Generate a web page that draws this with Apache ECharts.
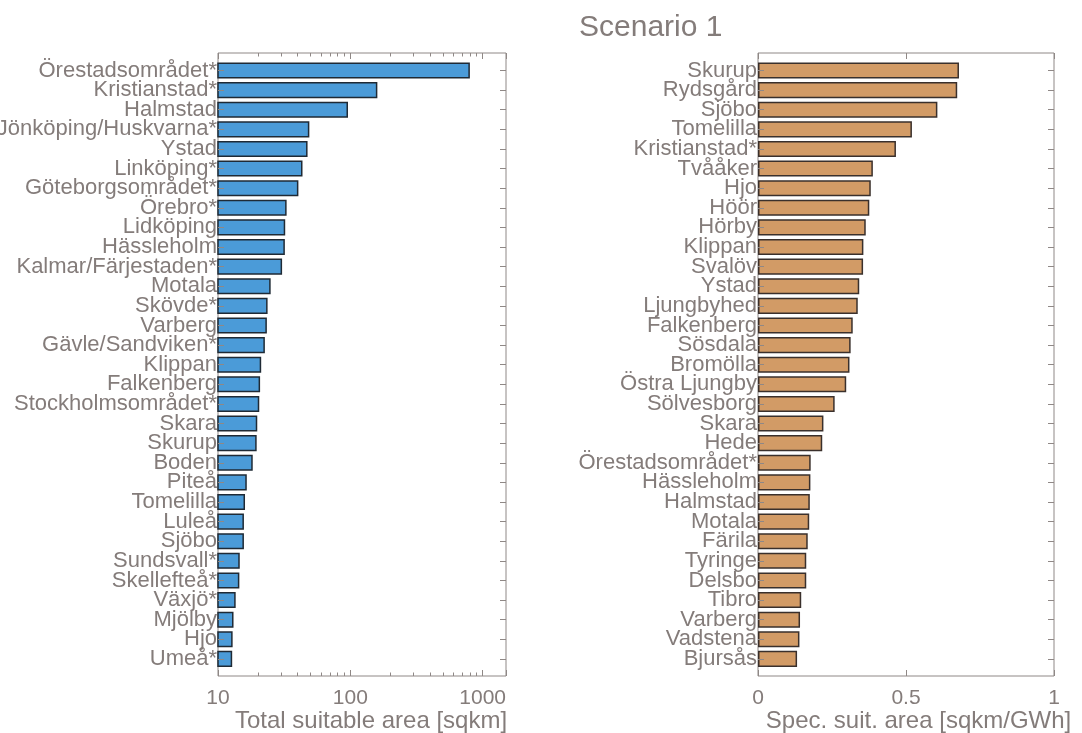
<!DOCTYPE html>
<html>
<head>
<meta charset="utf-8">
<script src="https://cdn.jsdelivr.net/npm/echarts@6/dist/echarts.min.js"></script>
<style>
  html, body { margin: 0; padding: 0; background: #ffffff; }
  #chart { width: 1082px; height: 733px; }
</style>
</head>
<body>
<div id="chart"></div>
<script>
// Left panel: total suitable area per town (log scale)
const totalCities = [
  'Örestadsområdet*', 'Kristianstad*', 'Halmstad', 'Jönköping/Huskvarna*', 'Ystad',
  'Linköping*', 'Göteborgsområdet*', 'Örebro*', 'Lidköping', 'Hässleholm',
  'Kalmar/Färjestaden*', 'Motala', 'Skövde*', 'Varberg', 'Gävle/Sandviken*',
  'Klippan', 'Falkenberg', 'Stockholmsområdet*', 'Skara', 'Skurup',
  'Boden', 'Piteå', 'Tomelilla', 'Luleå', 'Sjöbo',
  'Sundsvall*', 'Skellefteå*', 'Växjö*', 'Mjölby', 'Hjo', 'Umeå*'
];
const totalArea = [
  800, 160, 96, 49, 47.5,
  43.5, 40.5, 33, 32.2, 32,
  30.5, 25, 23.7, 23.4, 22.6,
  21.2, 20.8, 20.5, 19.8, 19.6,
  18.3, 16.5, 16.0, 15.7, 15.7,
  14.6, 14.5, 13.6, 13.1, 12.9, 12.8
];

// Right panel: specific suitable area per GWh (linear scale)
const specCities = [
  'Skurup', 'Rydsgård', 'Sjöbo', 'Tomelilla', 'Kristianstad*',
  'Tvååker', 'Hjo', 'Höör', 'Hörby', 'Klippan',
  'Svalöv', 'Ystad', 'Ljungbyhed', 'Falkenberg', 'Sösdala',
  'Bromölla', 'Östra Ljungby', 'Sölvesborg', 'Skara', 'Hede',
  'Örestadsområdet*', 'Hässleholm', 'Halmstad', 'Motala', 'Färila',
  'Tyringe', 'Delsbo', 'Tibro', 'Varberg', 'Vadstena', 'Bjursås'
];
const specArea = [
  0.679, 0.673, 0.606, 0.520, 0.466,
  0.388, 0.381, 0.376, 0.364, 0.356,
  0.355, 0.342, 0.337, 0.320, 0.313,
  0.309, 0.298, 0.259, 0.221, 0.217,
  0.178, 0.177, 0.175, 0.173, 0.168,
  0.163, 0.163, 0.146, 0.142, 0.140, 0.132
];

const totalRange = [10, 1500];
const specRange = [0, 1];
const specTickStep = 0.5;
const chartTitle = 'Scenario 1';
const totalAxisName = 'Total suitable area [sqkm]';
const specAxisName = 'Spec. suit. area [sqkm/GWh]';

// Styling
const TEXT = '#847c7a';
const LINE = '#8f8886';
const FONT = '"Liberation Sans", Arial, Helvetica, sans-serif';
const BLUE = '#4b9bd8';
const BLUE_EDGE = '#1f2a35';
const TAN = '#d29b66';
const TAN_EDGE = '#3a302c';

// Frame boxes and the slightly inset band area holding the bars
const frameTop = 53, frameHeight = 623;
const rowTop = 60.7, rowHeight = 608;
const leftX = 218, leftW = 288;
const rightX = 758, rightW = 296;

const lineStyle = { color: LINE, width: 1 };

function frameAxisX(grid, type, range, position, extra) {
  return Object.assign({
    gridIndex: grid,
    type: type,
    min: range[0],
    max: range[1],
    position: position,
    axisLine: { show: false },
    axisTick: { show: true, inside: true, length: 6, lineStyle: lineStyle },
    axisLabel: { show: false },
    splitLine: { show: false }
  }, extra || {});
}

function categoryAxis(grid, data, position, showLabels) {
  return {
    gridIndex: grid,
    type: 'category',
    data: data,
    inverse: true,
    position: position,
    z: 5,
    axisLine: { show: false },
    axisTick: { show: true, inside: true, alignWithLabel: true, length: 6, lineStyle: lineStyle },
    axisLabel: showLabels ? {
      show: true, color: TEXT, fontSize: 22, fontFamily: FONT, margin: 1, interval: 0
    } : { show: false },
    splitLine: { show: false }
  };
}

function gridBox(left, top, width, height, framed) {
  return {
    left: left, top: top, width: width, height: height,
    containLabel: false,
    outerBoundsMode: 'none',
    show: framed,
    borderColor: LINE,
    borderWidth: 1,
    backgroundColor: 'transparent'
  };
}

function axisTitle(text, shift) {
  return {
    name: text,
    nameLocation: 'middle',
    nameGap: 33,
    nameMoveOverlap: false,
    nameTextStyle: { color: TEXT, fontSize: 24, fontFamily: FONT, padding: [0, 0, 0, shift] }
  };
}

const logMinor = { show: true, splitNumber: 9, length: 3.5, lineStyle: lineStyle };

const option = {
  animation: false,
  backgroundColor: '#ffffff',
  title: {
    text: chartTitle,
    left: 574,
    top: 8,
    textStyle: { color: TEXT, fontSize: 30, fontWeight: 'normal', fontFamily: FONT }
  },
  grid: [
    gridBox(leftX, frameTop, leftW, frameHeight, true),
    gridBox(leftX, rowTop, leftW, rowHeight, false),
    gridBox(rightX, frameTop, rightW, frameHeight, true),
    gridBox(rightX, rowTop, rightW, rowHeight, false)
  ],
  xAxis: [
    frameAxisX(0, 'log', totalRange, 'bottom', Object.assign({
      minorTick: logMinor,
      axisLabel: {
        show: true, color: TEXT, fontSize: 21, fontFamily: FONT, margin: 12,
        showMaxLabel: false, formatter: function (v) { return String(v); }
      }
    }, axisTitle(totalAxisName, 18))),
    frameAxisX(0, 'log', totalRange, 'top', { minorTick: logMinor }),
    { gridIndex: 1, type: 'log', min: totalRange[0], max: totalRange[1], show: false },
    frameAxisX(2, 'value', specRange, 'bottom', Object.assign({
      interval: specTickStep,
      axisLabel: { show: true, color: TEXT, fontSize: 21, fontFamily: FONT, margin: 12 }
    }, axisTitle(specAxisName, 25))),
    frameAxisX(2, 'value', specRange, 'top', { interval: specTickStep }),
    { gridIndex: 3, type: 'value', min: specRange[0], max: specRange[1], show: false }
  ],
  yAxis: [
    { gridIndex: 0, type: 'value', show: false },
    categoryAxis(1, totalCities, 'left', true),
    categoryAxis(1, totalCities, 'right', false),
    { gridIndex: 2, type: 'value', show: false },
    categoryAxis(3, specCities, 'left', true),
    categoryAxis(3, specCities, 'right', false)
  ],
  series: [
    {
      type: 'bar',
      xAxisIndex: 2,
      yAxisIndex: 1,
      data: totalArea,
      barCategoryGap: '18%',
      itemStyle: { color: BLUE, borderColor: BLUE_EDGE, borderWidth: 1.5 }
    },
    {
      type: 'bar',
      xAxisIndex: 5,
      yAxisIndex: 4,
      data: specArea,
      barCategoryGap: '18%',
      itemStyle: { color: TAN, borderColor: TAN_EDGE, borderWidth: 1.5 }
    }
  ]
};

const chart = echarts.init(document.getElementById('chart'), null, { renderer: 'canvas' });
chart.setOption(option);
</script>
</body>
</html>
